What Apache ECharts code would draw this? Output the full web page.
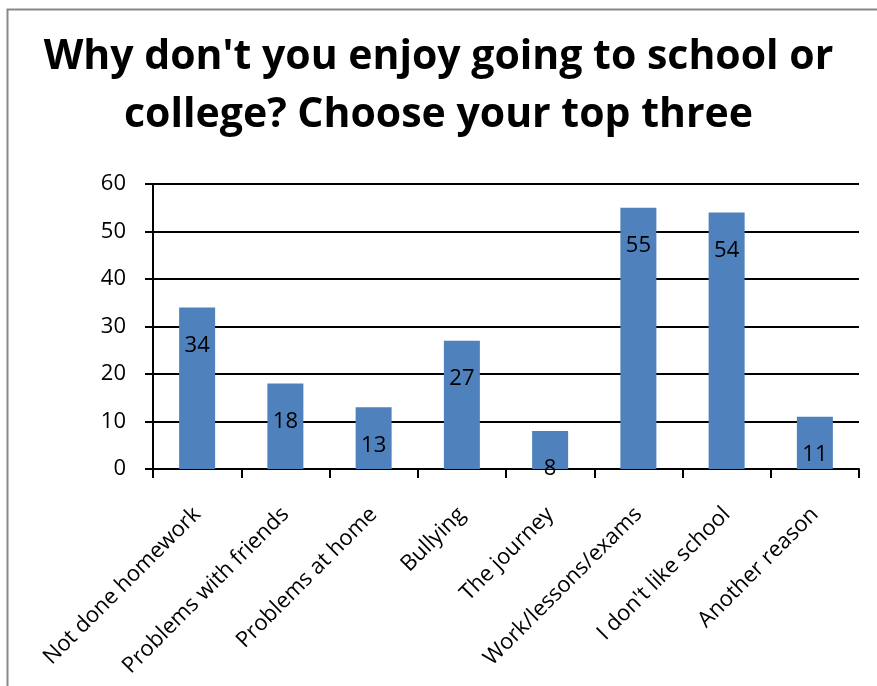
<!DOCTYPE html>
<html><head><meta charset="utf-8">
<script src="https://cdn.jsdelivr.net/npm/echarts@6/dist/echarts.min.js"></script>
<style>html,body{margin:0;padding:0;background:#fff}#c{width:877px;height:686px}</style>
</head><body><div id="c"></div>
<script>
const categories = ["Not done homework","Problems with friends","Problems at home","Bullying","The journey","Work/lessons/exams","I don't like school","Another reason"];
const values = [34,18,13,27,8,55,54,11];
const yTicks = {min:0,max:60,interval:10};
const titleLines = ["Why don't you enjoy going to school or","college? Choose your top three"];

const chart = echarts.init(document.getElementById('c'), null, {renderer:'canvas'});
const font = "'Open Sans', 'Noto Sans', sans-serif";
chart.setOption({
  animation:false,
  backgroundColor:'#fff',
  graphic:[{type:'rect',shape:{x:7.5,y:9.5,width:880,height:700},style:{fill:'none',stroke:'#888',lineWidth:2},silent:true}],
  title:{text:titleLines.join('\n'),left:'center',top:23,
    textStyle:{fontFamily:font,fontWeight:'bold',fontSize:41,color:'#000',lineHeight:58}},
  grid:{left:153,right:18,top:184,bottom:217,containLabel:false},
  xAxis:{type:'category',data:categories,
    axisLine:{lineStyle:{color:'#000',width:2}},
    axisTick:{show:true,alignWithLabel:false,length:9,lineStyle:{color:'#000',width:2}},
    axisLabel:{rotate:45,interval:0,margin:42,fontFamily:font,fontSize:22,color:'#000'}},
  yAxis:{type:'value',min:yTicks.min,max:yTicks.max,interval:yTicks.interval,
    axisLine:{show:true,lineStyle:{color:'#000',width:2}},
    axisTick:{show:true,length:8,lineStyle:{color:'#000',width:2}},
    splitLine:{lineStyle:{color:'#000',width:2}},
    axisLabel:{margin:27,fontFamily:font,fontSize:22,color:'#000'}},
  series:[{type:'bar',data:values,barWidth:36,
    itemStyle:{color:'#4f81bd'},
    label:{show:true,position:'insideTop',distance:27,fontFamily:font,fontSize:22,color:'#000'}}]
});
</script></body></html>
